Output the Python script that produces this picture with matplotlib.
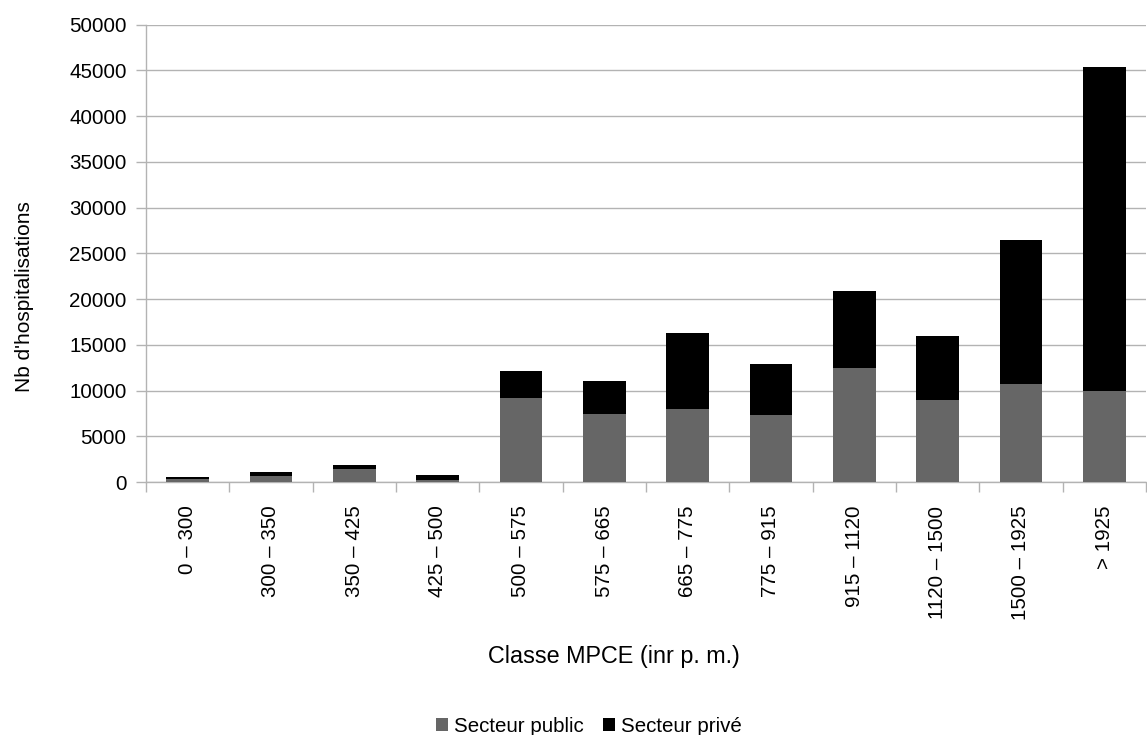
import matplotlib
matplotlib.use("Agg")
import matplotlib.pyplot as plt
import numpy as np

categories = ["0 – 300", "300 – 350", "350 – 425", "425 – 500", "500 – 575", "575 – 665",
              "665 – 775", "775 – 915", "915 – 1120", "1120 – 1500", "1500 – 1925", "> 1925"]
public = [300, 620, 1390, 190, 9150, 7400, 7950, 7290, 12460, 8960, 10710, 9950]
total = [510, 1060, 1825, 730, 12100, 11000, 16250, 12870, 20850, 15930, 26420, 45330]
private = [t - p for t, p in zip(total, public)]
yticks = list(range(0, 50001, 5000))

plt.rcParams['font.family'] = ['Liberation Sans', 'DejaVu Sans']

fig = plt.figure(figsize=(11.47, 7.35), dpi=100)
ax = fig.add_axes([146/1147, 1 - 482/735, 1000/1147, (482-24.7)/735])

x = np.arange(len(categories))
grid_c = '#b3b3b3'
b1 = ax.bar(x, public, width=0.51, color='#666666', label='Secteur public', zorder=3)
b2 = ax.bar(x, private, width=0.51, bottom=public, color='#000000', label='Secteur privé', zorder=3)

ax.set_xlim(-0.5, len(categories) - 0.5)
ax.set_ylim(0, 50000)
ax.set_yticks(yticks)
ax.set_yticklabels([str(v) for v in yticks], fontsize=14.8)
ax.yaxis.grid(True, color=grid_c, linewidth=1, zorder=0)
ax.set_axisbelow(True)

# x ticks at category boundaries, labels at centers
ax.set_xticks(np.arange(-0.5, len(categories), 1.0), minor=False)
ax.set_xticklabels([])
ax.set_xticks(x, minor=True)
ax.set_xticklabels(categories, minor=True, rotation=90, fontsize=14.8, va='top', ha='center')
ax.tick_params(axis='x', which='major', length=7, color=grid_c, width=1)
ax.tick_params(axis='x', which='minor', length=0, pad=17)
ax.tick_params(axis='y', length=7, color=grid_c, width=1, pad=7)

for s in ['top', 'right']:
    ax.spines[s].set_visible(False)
ax.spines['left'].set_color(grid_c)
ax.spines['bottom'].set_color(grid_c)
ax.spines['left'].set_linewidth(1)
ax.spines['bottom'].set_linewidth(1)

fig.text(25/1147, 1 - 297/735, "Nb d'hospitalisations", fontsize=15, rotation=90,
         ha='center', va='center')
fig.text(614/1147, 1 - 657/735, "Classe MPCE (inr p. m.)", fontsize=16.8, ha='center', va='center')

fig.legend(handles=[b1, b2], loc='center', bbox_to_anchor=(589/1147, 1 - 726/735), ncol=2,
           frameon=False, fontsize=14.8, handlelength=0.6, handleheight=0.6, handletextpad=0.3,
           columnspacing=0.9, borderpad=0)

fig.savefig("out.png", dpi=100)
